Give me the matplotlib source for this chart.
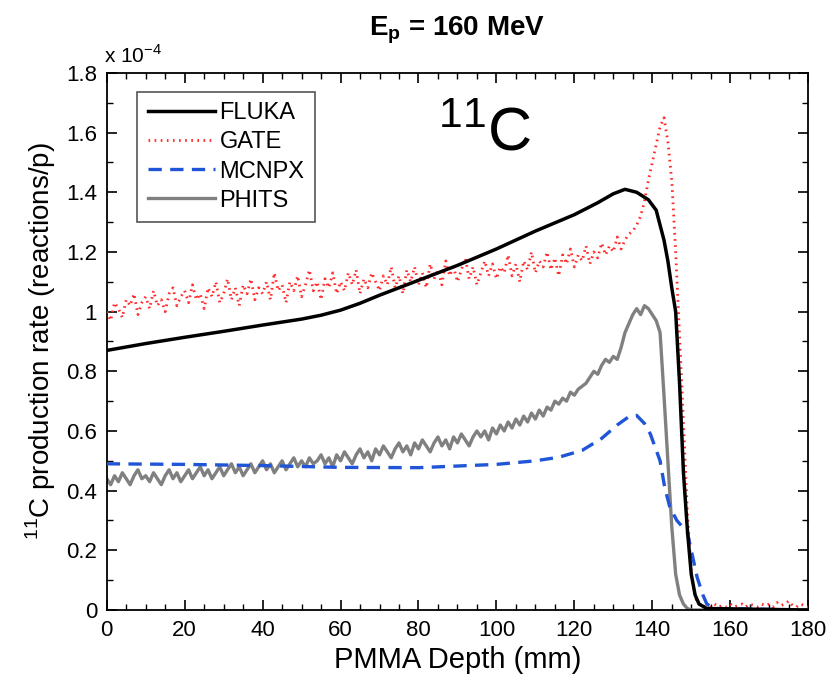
import numpy as np
import matplotlib
matplotlib.use("Agg")
import matplotlib.pyplot as plt
from matplotlib.ticker import MultipleLocator, FormatStrFormatter

plt.rcParams['font.family'] = ['Liberation Sans', 'DejaVu Sans']
plt.rcParams['mathtext.fontset'] = 'custom'
plt.rcParams['mathtext.rm'] = 'Liberation Sans'
plt.rcParams['mathtext.bf'] = 'Liberation Sans:bold'

# FLUKA (smooth), values in units of 1e-4
fluka_x = [0, 10, 20, 30, 40, 50, 55, 60, 65, 70, 80, 90, 100, 110, 120, 126, 130, 133,
           136, 139, 141, 142, 143, 144, 145, 146, 147, 148, 149, 150, 151, 152, 154, 180]
fluka_y = [0.87, 0.893, 0.914, 0.934, 0.955, 0.975, 0.988, 1.005, 1.028, 1.055, 1.105,
           1.155, 1.21, 1.27, 1.325, 1.365, 1.395, 1.41, 1.40, 1.375, 1.34, 1.29, 1.24,
           1.17, 1.08, 1.00, 0.76, 0.46, 0.27, 0.12, 0.05, 0.02, 0.005, 0.0]

# GATE, 1 mm bins 0..180
gate_x = list(range(0, 181))
gate_y = [
    1.00, 0.97, 1.03, 1.01, 0.98, 1.04, 1.02, 1.06, 0.99, 1.03,
    1.05, 1.01, 1.07, 1.02, 1.04, 1.00, 1.06, 1.08, 1.02, 1.05,
    1.07, 1.03, 1.09, 1.04, 1.06, 1.01, 1.08, 1.05, 1.10, 1.03,
    1.06, 1.11, 1.04, 1.08, 1.02, 1.09, 1.06, 1.11, 1.04, 1.08,
    1.06, 1.10, 1.04, 1.13, 1.07, 1.09, 1.03, 1.10, 1.07, 1.12,
    1.05, 1.09, 1.14, 1.07, 1.10, 1.04, 1.11, 1.08, 1.13, 1.06,
    1.10, 1.07, 1.13, 1.09, 1.14, 1.06, 1.11, 1.08, 1.13, 1.10,
    1.07, 1.12, 1.09, 1.15, 1.08, 1.12, 1.06, 1.14, 1.10, 1.15,
    1.09, 1.13, 1.08, 1.16, 1.11, 1.14, 1.09, 1.17, 1.12, 1.15,
    1.10, 1.14, 1.18, 1.11, 1.15, 1.09, 1.13, 1.17, 1.12, 1.16,
    1.11, 1.15, 1.13, 1.19, 1.12, 1.16, 1.10, 1.17, 1.14, 1.20,
    1.13, 1.17, 1.15, 1.20, 1.14, 1.18, 1.12, 1.19, 1.16, 1.21,
    1.15, 1.19, 1.17, 1.22, 1.16, 1.20, 1.18, 1.23, 1.19, 1.22,
    1.20, 1.25, 1.21, 1.24, 1.26, 1.27, 1.29, 1.32, 1.37, 1.44,
    1.50, 1.56, 1.62, 1.65, 1.57, 1.44, 1.20, 0.92, 0.63, 0.33,
    0.12, 0.04, 0.02, 0.01, 0.015, 0.01, 0.02, 0.01, 0.015, 0.01,
    0.02, 0.01, 0.015, 0.02, 0.01, 0.02, 0.015, 0.01, 0.02, 0.015,
    0.02, 0.01, 0.025, 0.015, 0.02, 0.03, 0.015, 0.01, 0.02, 0.015, 0.01,
]

# MCNPX (smooth)
mcnpx_x = [0, 20, 40, 60, 80, 100, 110, 116, 122, 127, 131, 134, 136, 138, 139.5,
           142, 143.2, 144.5, 146.3, 149, 150.5, 151.5, 153, 154, 156, 180]
mcnpx_y = [0.49, 0.488, 0.484, 0.478, 0.477, 0.488, 0.50, 0.512, 0.535, 0.575, 0.62,
           0.648, 0.652, 0.625, 0.59, 0.50, 0.41, 0.345, 0.30, 0.26, 0.17, 0.11,
           0.05, 0.02, 0.005, 0.0]

# PHITS, 1 mm bins 0..180
phits_x = list(range(0, 181))
phits_y = [
    0.44, 0.42, 0.45, 0.43, 0.46, 0.44, 0.42, 0.45, 0.47, 0.44,
    0.45, 0.43, 0.46, 0.44, 0.42, 0.45, 0.47, 0.44, 0.46, 0.43,
    0.45, 0.47, 0.44, 0.46, 0.48, 0.45, 0.47, 0.44, 0.46, 0.48,
    0.45, 0.47, 0.49, 0.46, 0.48, 0.45, 0.47, 0.49, 0.46, 0.48,
    0.50, 0.47, 0.49, 0.46, 0.48, 0.50, 0.47, 0.49, 0.51, 0.48,
    0.50, 0.48, 0.51, 0.49, 0.50, 0.52, 0.49, 0.51, 0.48, 0.52,
    0.50, 0.53, 0.51, 0.49, 0.52, 0.54, 0.51, 0.53, 0.50, 0.54,
    0.52, 0.55, 0.53, 0.51, 0.54, 0.56, 0.53, 0.55, 0.52, 0.56,
    0.54, 0.57, 0.55, 0.53, 0.56, 0.58, 0.55, 0.57, 0.54, 0.58,
    0.56, 0.59, 0.57, 0.55, 0.58, 0.60, 0.58, 0.60, 0.57, 0.61,
    0.59, 0.62, 0.60, 0.63, 0.61, 0.64, 0.62, 0.65, 0.63, 0.66,
    0.64, 0.67, 0.65, 0.68, 0.67, 0.70, 0.69, 0.71, 0.70, 0.73,
    0.72, 0.74, 0.75, 0.76, 0.78, 0.80, 0.79, 0.82, 0.84, 0.83,
    0.85, 0.84, 0.88, 0.93, 0.96, 0.99, 1.01, 0.99, 1.02, 1.01,
    0.99, 0.97, 0.93, 0.72, 0.50, 0.28, 0.12, 0.05, 0.02, 0.005,
    0, 0, 0, 0, 0, 0, 0, 0, 0, 0,
    0, 0, 0, 0, 0, 0, 0, 0, 0, 0,
    0, 0, 0, 0, 0, 0, 0, 0, 0, 0, 0,
]

fig = plt.figure(figsize=(8.34, 6.85), dpi=100)
ax = fig.add_axes([0.128, 0.1095, 0.841, 0.784])

ax.plot(fluka_x, fluka_y, color='black', lw=2.5, label='FLUKA', zorder=4)
ax.plot(gate_x, gate_y, color='#ff2a2a', lw=2.0, ls=(0, (0.6, 1.6)), label='GATE', zorder=3)
ax.plot(mcnpx_x, mcnpx_y, color='#1f55d6', lw=2.4, ls=(0, (4, 2.5)), label='MCNPX', zorder=3)
ax.plot(phits_x, phits_y, color='#808080', lw=2.4, label='PHITS', zorder=2)

ax.set_xlim(0, 180)
ax.set_ylim(0, 1.8)
ax.xaxis.set_major_locator(MultipleLocator(20))
ax.xaxis.set_minor_locator(MultipleLocator(5))
ax.yaxis.set_major_locator(MultipleLocator(0.2))
ax.yaxis.set_minor_locator(MultipleLocator(0.1))
ax.yaxis.set_major_formatter(FormatStrFormatter('%g'))
ax.tick_params(which='both', direction='in', top=True, right=True, labelsize=16)
ax.tick_params(which='major', length=7, width=1.2, pad=7)
ax.tick_params(which='minor', length=4, width=1.0)
for s in ax.spines.values():
    s.set_linewidth(1.3)

ax.set_xlabel('PMMA Depth (mm)', fontsize=21, labelpad=4)
ax.set_ylabel('$^{11}$C production rate (reactions/p)', fontsize=20, labelpad=6)
ax.set_title('E$_\\mathbf{p}$ = 160 MeV', fontsize=20, fontweight='bold', pad=27)
ax.text(-0.004, 1.012, 'x 10$^{-4}$', transform=ax.transAxes, fontsize=15, va='bottom')

ax.text(0.472, 0.855, '$^{11}$C', transform=ax.transAxes, fontsize=44, ha='left')

leg = ax.legend(loc='upper left', bbox_to_anchor=(0.043, 0.965), borderaxespad=0,
                fontsize=17, handlelength=2.85, handletextpad=0.2, labelspacing=0.3,
                borderpad=0.45, fancybox=False, edgecolor='#555555', framealpha=1)
leg.get_frame().set_linewidth(1.2)

fig.savefig('out.png', dpi=100)
